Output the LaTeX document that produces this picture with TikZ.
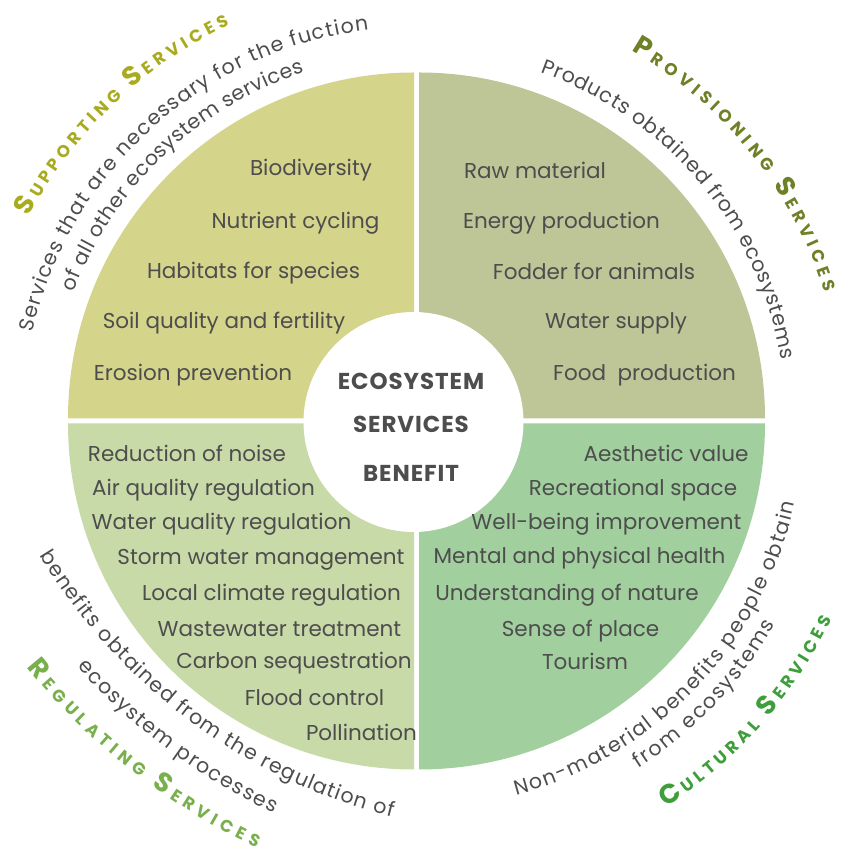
\documentclass[tikz,border=0pt]{standalone}
\usepackage{fontspec}
\setmainfont{Poppins}
\usetikzlibrary{decorations.text}

% quadrant fills
\definecolor{supfill}{HTML}{D5D48B}
\definecolor{provfill}{HTML}{BEC597}
\definecolor{regfill}{HTML}{C8DAA8}
\definecolor{culfill}{HTML}{A1CF9E}
% heading colours
\definecolor{suplab}{HTML}{A9AB1F}
\definecolor{provlab}{HTML}{6E8126}
\definecolor{reglab}{HTML}{79AF4C}
\definecolor{cullab}{HTML}{3E9E3A}
\definecolor{ink}{HTML}{4D4D4D}

\newcommand\itemfont{\fontsize{21.5}{24}\selectfont}
\newcommand\descfont{\fontsize{20.5}{24}\selectfont}
\newcommand\labbig{\fontsize{27}{30}\selectfont\bfseries}
\newcommand\labsmall{\fontsize{17}{20}\selectfont\bfseries}
\newcommand\hubfont{\fontsize{23}{26}\selectfont\bfseries\addfontfeature{LetterSpace=4}}

\tikzset{
  entry/.style={anchor=base, inner sep=0pt, text=ink, font=\itemfont},
  hub/.style={anchor=base, inner sep=0pt, text=ink, font=\hubfont},
  curved/.style={decorate, decoration={text along path, text align={fit to path},
      text color=ink, text={#1}}},
  curvedlab/.style 2 args={decorate, decoration={text along path, text align={fit to path},
      text color=#1, text={#2}}},
}

\begin{document}
\begin{tikzpicture}[x=1pt, y=1pt]
\useasboundingbox (0,0) rectangle (840,856);
\coordinate (C) at (416.5,435);
\coordinate (R) at (535,600);

% four quadrants with white gaps
\begin{scope}[shift={(C)}]
  \fill[supfill]  (-2.5,2.5)   -- ++(-346,0) arc[start angle=180, end angle=90,  radius=346] -- cycle;
  \fill[provfill] (2.5,2.5)    -- ++(0,346)  arc[start angle=90,  end angle=0,   radius=346] -- cycle;
  \fill[regfill]  (-2.5,-2.5)  -- ++(-346,0) arc[start angle=180, end angle=270, radius=346] -- cycle;
  \fill[culfill]  (2.5,-2.5)   -- ++(346,0)  arc[start angle=0,   end angle=-90, radius=346] -- cycle;
\end{scope}

% centre disc
\fill[white] (413.5,434) circle[radius=110];
\node[hub] (hubA) at (411,466) {ECOSYSTEM};
\node[hub] (hubB) at (411,423) {SERVICES};
\node[hub] (hubC) at (411,374) {BENEFIT};

% supporting services
\node[entry] (s1) at (311,680) {Biodiversity};
\node[entry] (s2) at (295.5,627) {Nutrient cycling};
\node[entry] (s3) at (253.5,577) {Habitats for species};
\node[entry] (s4) at (224,527) {Soil quality and fertility};
\node[entry] (s5) at (193,475) {Erosion prevention};

% provisioning services
\node[entry] (p1) at (535,677) {Raw material};
\node[entry] (p2) at (561.5,627) {Energy production};
\node[entry] (p3) at (594,576) {Fodder for animals};
\node[entry] (p4) at (616,527) {Water supply};
\node[entry] (p5) at (644.5,475) {Food\ \ production};

% regulating services
\node[entry] (r1) at (187,394) {Reduction of noise};
\node[entry] (r2) at (203.5,360) {Air quality regulation};
\node[entry] (r3) at (221.5,326) {Water quality regulation};
\node[entry] (r4) at (261,291) {Storm water management};
\node[entry] (r5) at (271.5,255) {Local climate regulation};
\node[entry] (r6) at (279.5,219) {Wastewater treatment};
\node[entry] (r7) at (294,187) {Carbon sequestration};
\node[entry] (r8) at (314.5,150) {Flood control};
\node[entry] (r9) at (361.5,115) {Pollination};

% cultural services
\node[entry] (c1) at (666,394) {Aesthetic value};
\node[entry] (c2) at (633,360) {Recreational space};
\node[entry] (c3) at (606.5,326) {Well-being improvement};
\node[entry] (c4) at (579.5,292) {Mental and physical health};
\node[entry] (c5) at (567,255) {Understanding of nature};
\node[entry] (c6) at (580.5,219) {Sense of place};
\node[entry] (c7) at (585,186) {Tourism};

% curved captions and headings around the main centre
\begin{scope}[shift={(C)}]
  \path[curved={|\descfont|Services that are necessary for the fuction}]
    (167:394) arc[start angle=167, end angle=97, radius=394];
  \path[curved={|\descfont|of all other ecosystem services}]
    (159.4:366) arc[start angle=159.4, end angle=107.8, radius=366];
  \path[curvedlab={suplab}{|\labbig|S|\labsmall|UPPORTING |\labbig|S|\labsmall|ERVICES}]
    (152.2:438) arc[start angle=152.2, end angle=115.3, radius=438];

  \path[curved={|\descfont|Products obtained from ecosystems}]
    (70.4:370) arc[start angle=70.4, end angle=9.5, radius=370];
  \path[curvedlab={provlab}{|\labbig|P|\labsmall|ROVISIONING |\labbig|S|\labsmall|ERVICES}]
    (59.9:428) arc[start angle=59.9, end angle=17.5, radius=428];

  \path[curved={|\descfont|Non-material benefits people obtain}]
    (284.9:387) arc[start angle=284.9, end angle=347.8, radius=387];
  \path[curved={|\descfont|from ecosystems}]
    (302.6:412) arc[start angle=302.6, end angle=330.5, radius=412];
  \path[curvedlab={cullab}{|\labbig|C|\labsmall|ULTURAL |\labbig|S|\labsmall|ERVICES}]
    (302.9:460) arc[start angle=302.9, end angle=334.5, radius=460];
\end{scope}

% the regulating captions follow a flatter set of arcs
\begin{scope}[shift={(R)}]
  \path[curved={|\descfont|benefits obtained from the regulation of}]
    (211.2:579) arc[start angle=211.2, end angle=255.7, radius=579];
  \path[curved={|\descfont|ecosystem processes}]
    (221.9:615) arc[start angle=221.9, end angle=244.9, radius=615];
  \path[curvedlab={reglab}{|\labbig|R|\labsmall|EGULATING |\labbig|S|\labsmall|ERVICES}]
    (219:654) arc[start angle=219, end angle=244.8, radius=654];
\end{scope}
\end{tikzpicture}
\end{document}
